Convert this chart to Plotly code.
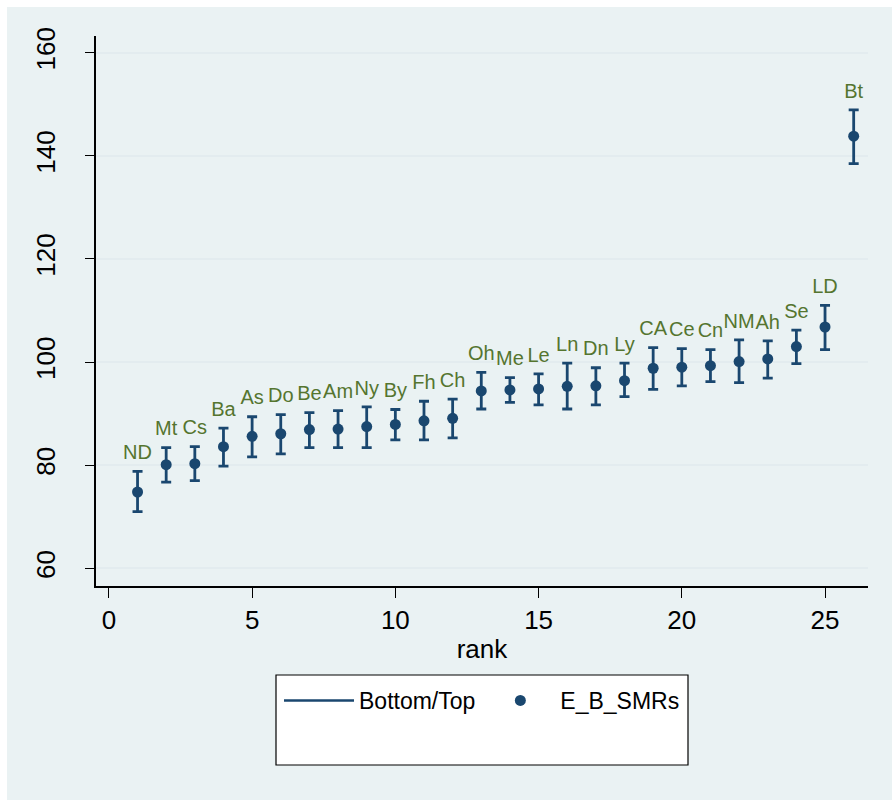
import plotly.graph_objects as go

rank = list(range(1, 27))
names = ["ND", "Mt", "Cs", "Ba", "As", "Do", "Be", "Am", "Ny", "By", "Fh", "Ch", "Oh",
         "Me", "Le", "Ln", "Dn", "Ly", "CA", "Ce", "Cn", "NM", "Ah", "Se", "LD", "Bt"]
smr = [74.8, 80.1, 80.3, 83.6, 85.6, 86.1, 86.9, 87.0, 87.5, 87.9, 88.6, 89.1, 94.4,
       94.6, 94.8, 95.3, 95.4, 96.4, 98.8, 99.0, 99.3, 100.1, 100.6, 103.0, 106.8, 143.8]
top = [78.8, 83.4, 83.6, 87.2, 89.4, 89.8, 90.2, 90.6, 91.3, 90.8, 92.4, 92.8, 98.0,
       97.0, 97.7, 99.8, 98.9, 99.8, 102.8, 102.6, 102.4, 104.3, 104.1, 106.2, 111.0, 148.9]
bottom = [71.0, 76.7, 77.0, 79.8, 81.6, 82.2, 83.4, 83.4, 83.4, 84.9, 84.9, 85.3, 90.9,
          92.2, 91.7, 90.9, 91.7, 93.3, 94.7, 95.4, 96.2, 96.0, 96.9, 99.7, 102.4, 138.5]
yticks = [60, 80, 100, 120, 140, 160]
xticks = [0, 5, 10, 15, 20, 25]

NAVY = "#1a476f"
GREEN = "#55752f"
BG = "#eaf2f3"
GRID = "#e3ecef"
FONT = "Liberation Sans, Arial, sans-serif"

err_plus = [t - m for t, m in zip(top, smr)]
err_minus = [m - b for m, b in zip(smr, bottom)]

fig = go.Figure()

# legend entry for the range caps
fig.add_trace(go.Scatter(x=[None], y=[None], mode="lines", name="Bottom/Top",
                         line=dict(color=NAVY, width=2.5)))

fig.add_trace(go.Scatter(
    x=rank, y=smr, mode="markers", name="E_B_SMRs",
    marker=dict(color=NAVY, size=11),
    error_y=dict(type="data", symmetric=False, array=err_plus, arrayminus=err_minus,
                 color=NAVY, thickness=2.8, width=5),
))

fig.add_trace(go.Scatter(
    x=rank, y=top, mode="markers+text", text=names, textposition="top center",
    marker=dict(size=10, opacity=0),
    textfont=dict(color=GREEN, size=20, family=FONT), showlegend=False, hoverinfo="skip",
))

L, R, T, B = 96, 26, 36, 214
W, H = 894, 800
pw, ph = W - L - R, H - T - B


def px(xp):
    return (xp - L) / pw


def py(yp):
    return (H - B - yp) / ph


fig.update_layout(
    width=W, height=H,
    margin=dict(l=L, r=R, t=T, b=B, autoexpand=False),
    paper_bgcolor="white",
    plot_bgcolor="white",
    font=dict(family=FONT, color="black"),
    showlegend=True,
    legend=dict(orientation="h", x=0.5, xanchor="center", xref="paper",
                y=1 - 679 / H, yref="container", yanchor="top",
                bgcolor="rgba(0,0,0,0)", borderwidth=0, font=dict(size=23),
                itemwidth=70),
    shapes=[
        dict(type="rect", xref="paper", yref="paper", layer="below",
             x0=px(7), x1=px(892), y0=py(800), y1=py(7),
             fillcolor=BG, line=dict(width=0)),
        dict(type="rect", xref="paper", yref="paper", layer="below",
             x0=px(276), x1=px(688), y0=py(765), y1=py(675),
             fillcolor="white", line=dict(width=0)),
        dict(type="rect", xref="paper", yref="paper", layer="above",
             x0=px(276), x1=px(688), y0=py(765), y1=py(675),
             fillcolor="rgba(0,0,0,0)", line=dict(color="black", width=1.2)),
    ],
    xaxis=dict(
        range=[-0.45, 26.5], tickmode="array", tickvals=xticks, automargin=False,
        showgrid=False, zeroline=False, showline=True, linecolor="black", linewidth=1.5,
        ticks="outside", ticklen=10, tickwidth=1.2, tickcolor="black",
        tickfont=dict(size=26), ticklabelstandoff=0,
        title=dict(text="rank", font=dict(size=26), standoff=6),
    ),
    yaxis=dict(
        range=[56.57, 163.24], tickmode="array", tickvals=yticks, automargin=False,
        showgrid=True, gridcolor=GRID, gridwidth=2, zeroline=False,
        showline=True, linecolor="black", linewidth=1.5,
        ticks="outside", ticklen=9, tickwidth=1.2, tickcolor="black",
        tickfont=dict(size=26), tickangle=-90, ticklabelstandoff=20,
    ),
)

fig.write_html("out.html", config={"displayModeBar": False},
               post_script="document.body.style.margin='0px';")
